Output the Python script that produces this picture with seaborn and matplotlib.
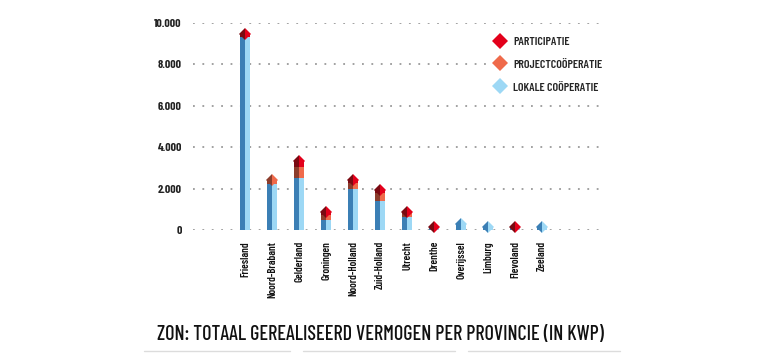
import matplotlib
matplotlib.use("Agg")
import matplotlib.pyplot as plt
import matplotlib.ticker as mticker
from matplotlib.lines import Line2D
import seaborn as sns
import pandas as pd

# --- data (kWp per provincie) ---
provinces = ['Friesland', 'Noord-Brabant', 'Gelderland', 'Groningen', 'Noord-Holland',
             'Zuid-Holland', 'Utrecht', 'Drenthe', 'Overijssel', 'Limburg', 'Flevoland', 'Zeeland']
lokale = [9300, 2220, 2530, 480, 1970, 1390, 610, 90, 290, 130, 80, 130]
project = [0, 195, 500, 230, 290, 380, 196, 0, 0, 0, 0, 0]
participatie = [170, 0, 300, 170, 155, 160, 80, 50, 0, 0, 50, 0]
series_names = ['PARTICIPATIE', 'PROJECTCOÖPERATIE', 'LOKALE COÖPERATIE']
yticks = [0, 2000, 4000, 6000, 8000, 10000]

# colours: (dark left half, light right half)
c_red = ('#7a0a12', '#e3001b')
c_orange = ('#8c3d2c', '#ef6a4b')
c_blue = ('#3b7fb5', '#9dd8f5')

sns.set_theme(style="white")
plt.rcParams['font.family'] = ['Barlow Condensed', 'DejaVu Sans']

df = pd.DataFrame({'Provincie': provinces, 'lokale': lokale,
                   'project': project, 'participatie': participatie})
df['lvl1'] = df['lokale']
df['lvl2'] = df['lokale'] + df['project']
df['lvl3'] = df['lvl2'] + df['participatie']
# two halves per bar to get the 3d look
halves = pd.concat([df.assign(half='L'), df.assign(half='R')], ignore_index=True)

fig = plt.figure(figsize=(7.68, 3.64), dpi=100)
ax = fig.add_axes([193 / 768, 1 - 230 / 364, 410 / 768, 207 / 364])

bw = 0.37
for col, cols in [('lvl3', c_red), ('lvl2', c_orange), ('lvl1', c_blue)]:
    sns.barplot(data=halves, x='Provincie', y=col, hue='half', hue_order=['L', 'R'],
                order=provinces, palette=list(cols), dodge=True, width=bw, gap=0,
                saturation=1, linewidth=0, legend=False, ax=ax, zorder=3)

# diamond caps on top of each bar, coloured after the top segment
for i, row in df.iterrows():
    if row['participatie'] > 0:
        cc = c_red
    elif row['project'] > 0:
        cc = c_orange
    else:
        cc = c_blue
    ax.plot(i, row['lvl3'], marker='D', ms=6.6, fillstyle='left',
            markerfacecolor=cc[0], markerfacecoloralt=cc[1], markeredgewidth=0,
            clip_on=False, zorder=4)

ax.set_xlim(-1.93, 13.26)
ax.set_ylim(0, 10000)
ax.set_yticks(yticks)
ax.yaxis.set_major_formatter(mticker.FuncFormatter(lambda v, p: f'{int(v):,}'.replace(',', '.')))
for y in yticks:
    ax.axhline(y, color='#9a9a9a', lw=1.3, ls=(0, (1, 4.2)), zorder=1)
ax.grid(False)
for s in ax.spines.values():
    s.set_visible(False)
ax.set_xlabel('')
ax.set_ylabel('')
ax.tick_params(axis='y', length=0, pad=8, labelsize=8.5, labelcolor='#222222')
ax.tick_params(axis='x', length=0, pad=8, labelsize=7.8, labelcolor='#111111')
plt.setp(ax.get_yticklabels(), fontweight='bold')
plt.setp(ax.get_xticklabels(), rotation=90, fontweight='semibold', va='top', ha='center')

# legend
handles = [Line2D([], [], ls='none', marker='D', ms=8.5, color=c, markeredgewidth=0)
           for c in [c_red[1], c_orange[1], c_blue[1]]]
leg = ax.legend(handles, series_names, loc='upper left', bbox_to_anchor=(486 / 768, 1 - 28 / 364),
                bbox_transform=fig.transFigure, frameon=True, facecolor='white', edgecolor='none',
                framealpha=1, handlelength=1.0, handletextpad=0.55, labelspacing=1.05,
                borderpad=0.2, prop={'size': 8.6, 'weight': 'semibold'})
leg.set_zorder(5)

# title and the thin lines under it
fig.text(0.495, 1 - 334 / 364, 'ZON: TOTAAL GEREALISEERD VERMOGEN PER PROVINCIE (IN KWP)',
         ha='center', va='center', fontsize=14.5, fontweight='medium', color='#111111')
for x0, x1 in [(144, 290), (303, 455), (468, 620)]:
    fig.add_artist(Line2D([x0 / 768, x1 / 768], [1 - 351 / 364] * 2, color='#dcdcdc', lw=1))

fig.savefig('out.png', dpi=100)
